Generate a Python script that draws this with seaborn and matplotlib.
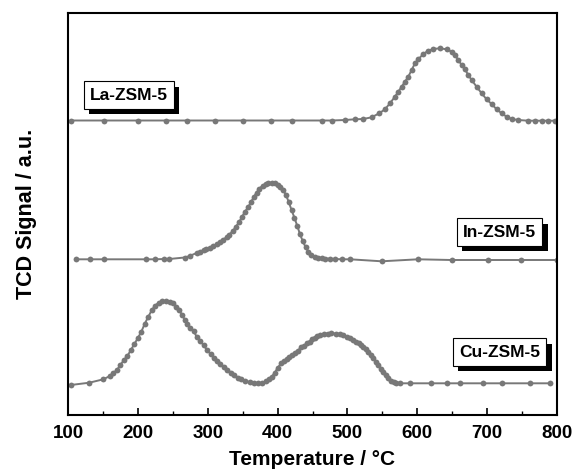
import numpy as np
import pandas as pd
import matplotlib
matplotlib.use("Agg")
import matplotlib.pyplot as plt
import matplotlib.patheffects as pe
import seaborn as sns

# ---------------- data ----------------
cu_T = [104, 130.5, 150.6, 160, 165, 170, 175, 180, 185, 190, 195, 200, 205, 210, 215, 220, 225, 230,
        235, 241, 246, 251, 255, 259, 263, 267, 271, 275, 280, 284, 289, 294, 299, 304, 309, 313, 318,
        323, 328, 333, 338, 343, 348, 353, 360, 366, 372, 378, 384, 388, 392, 396, 400, 405, 409, 413,
        417, 421, 425, 429, 434, 438, 442, 446, 449, 453, 456, 461, 466, 472, 477, 483, 489, 494, 499,
        503, 508, 512, 516, 520, 523, 527, 530, 534, 537, 541, 544, 548, 551, 555, 558, 562, 566, 570,
        575, 590, 620, 642, 661, 694, 721, 761, 790]
cu_y = [30, 32.3, 35.7, 39, 42, 45, 50, 55, 59, 65, 71, 77, 83.3, 91.5, 98.3, 105, 109.5, 112.5,
        113.7, 114, 113.5, 112, 108.5, 105, 100.5, 95.5, 91, 87.5, 84, 78.3, 74, 70, 65, 61, 57, 54.3, 51,
        48, 45.5, 42.5, 40, 37.5, 36, 34.5, 32.8, 32, 31.7, 32.2, 34, 36.5, 38.5, 42.5, 47, 51.7, 54, 55.7,
        58, 60, 62.5, 64.5, 67.7, 69.5, 71.7, 73.5, 75.7, 77.5, 79, 80.3, 81, 81.5, 81.7, 81.5, 81, 80, 78.3,
        77, 75, 73.5, 71.7, 70, 68.3, 66, 63.3, 60.5, 56.7, 53.5, 50, 46.5, 43.3, 40, 36.7, 34.5, 33.3, 32.5,
        31.7, 31.7, 31.7, 31.7, 31.7, 31.7, 31.7, 31.7, 31.7]

in_T = [111, 132, 152, 211, 224, 238, 245, 267, 274, 284, 289, 294, 298, 303, 308, 313, 318, 322,
        327, 331, 336, 340, 345, 349, 353, 358, 362, 366, 370, 374, 379, 383, 387, 392, 396, 400, 404,
        408, 412, 416, 420, 424, 428, 432, 436, 440, 444, 448, 453, 458, 463, 468, 475, 482, 492, 504,
        549, 601, 649, 701, 749, 800]
in_y = [155.7, 155.7, 155.7, 155.7, 155.7, 156, 156, 157.5, 159, 162, 163.5, 165, 166, 167.5, 169, 171,
        173, 175, 178, 180.5, 184, 188, 193, 198, 203, 208, 213, 218, 222.5, 226.5, 229.5, 231.5, 232,
        232.3, 232, 230.5, 228, 225, 220, 213, 205, 197.5, 189.5, 181, 174, 168, 163.5, 160.5, 158.5,
        157.5, 157, 156.5, 156.3, 156, 155.7, 155.7, 153.7, 155.7, 155, 155, 155, 155]

la_T = [105, 151, 200, 240, 270, 310, 350, 390, 420, 463, 477.4, 496.5, 510.8, 522.7, 534.6, 545.6,
        553.7, 560.9, 568, 572.8, 577.6, 582.3, 587.1, 591.9, 596.7, 601.4, 608.6, 615.7, 622.9, 632.4,
        642, 649.1, 653.9, 658.7, 663.5, 668.2, 673, 677.8, 684.9, 692.1, 699.2, 706.4, 713.6, 720.7,
        727.9, 735, 744.6, 758.9, 768.4, 778, 787.5, 797]
la_y = [294.5, 294.5, 294.5, 294.5, 294.5, 294.5, 294.5, 294.5, 294.5, 294.5, 294.5, 295, 295.7, 296,
        297.7, 301.7, 305.7, 311.7, 318.3, 323.3, 328.3, 333.3, 338.3, 345, 351.7, 355.7, 361, 364.3,
        366, 366.7, 365.7, 363.3, 360, 355, 350, 345.7, 340, 335, 328.3, 321.7, 315.7, 311, 305.7,
        301.7, 298.3, 296, 295, 294.3, 294.3, 294.3, 294.3, 294.3]

samples = ["Cu-ZSM-5", "In-ZSM-5", "La-ZSM-5"]
label_T = [718, 718, 187]
label_y = [63, 183, 320]

xticks = [100, 200, 300, 400, 500, 600, 700, 800]

df = pd.concat([
    pd.DataFrame({"T": cu_T, "signal": cu_y, "sample": samples[0]}),
    pd.DataFrame({"T": in_T, "signal": in_y, "sample": samples[1]}),
    pd.DataFrame({"T": la_T, "signal": la_y, "sample": samples[2]}),
], ignore_index=True)

# ---------------- plotting ----------------
sns.set_style("ticks")
plt.rcParams["font.family"] = ["Liberation Sans", "DejaVu Sans"]
plt.rcParams["font.weight"] = "bold"
plt.rcParams["text.color"] = "black"
plt.rcParams["axes.labelcolor"] = "black"
plt.rcParams["xtick.color"] = "black"
plt.rcParams["xtick.labelcolor"] = "black"

fig = plt.figure(figsize=(5.73, 4.73), dpi=100)
ax = fig.add_axes([68 / 573, 58 / 473, 489 / 573, 402 / 473])

gray = "#787878"
sns.lineplot(data=df, x="T", y="signal", hue="sample", units="sample", estimator=None,
             sort=False, palette=[gray, gray, gray], marker="o", markersize=4.2,
             markeredgewidth=0, linewidth=1.4, legend=False, ax=ax)

ax.set_xlim(100, 800)
ax.set_ylim(0, 402)
ax.set_xticks(xticks)
ax.set_xticklabels([str(t) for t in xticks], fontsize=13.5, fontweight="bold", color="black")
ax.set_xticks(np.arange(150, 800, 100), minor=True)
ax.set_yticks([])
ax.tick_params(axis="x", which="major", direction="in", length=5, width=1.2, pad=7, color="black")
ax.tick_params(axis="x", which="minor", direction="in", length=3, width=1.0, color="black")
for s in ax.spines.values():
    s.set_visible(True)
    s.set_linewidth(1.5)
    s.set_color("black")

ax.set_xlabel("Temperature / °C", fontsize=15, fontweight="bold", labelpad=6, color="black")
ax.set_ylabel("TCD Signal / a.u.", fontsize=15.5, fontweight="bold", labelpad=22, color="black")

for name, lx, ly in zip(samples, label_T, label_y):
    t = ax.text(lx, ly, name, ha="center", va="center", fontsize=12.5, fontweight="bold",
                color="black",
                bbox=dict(boxstyle="square,pad=0.35", fc="white", ec="black", lw=0.8), zorder=5)
    t.get_bbox_patch().set_path_effects([
        pe.SimplePatchShadow(offset=(3.8, -4.2), shadow_rgbFace="black", alpha=1.0),
        pe.Normal()])

fig.savefig("out.png", dpi=100)
